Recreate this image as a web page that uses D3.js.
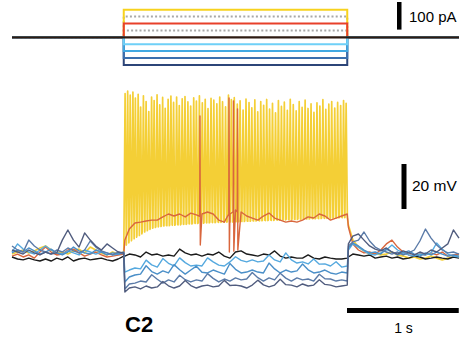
<!DOCTYPE html>
<html>
<head>
<meta charset="utf-8">
<script src="https://cdn.jsdelivr.net/npm/d3@7"></script>
<style>
  body { margin: 0; background: #fff; }
  svg { display: block; }
  text { font-family: "Liberation Sans", Arial, sans-serif; fill: #000; }
</style>
</head>
<body>
<svg id="chart" width="462" height="338"></svg>
<script>
// current step protocol (pA), step on/off in seconds
const stepWindow = [1, 3];
const currentLevels = [75, 25, 100, 50, -100, -75, -50, -25, 0];
const currentColors = ['#a8a8a8', '#a8a8a8', '#f7d21e', '#e8402a', '#2c4578', '#3b6fae', '#42a9e2', '#6fd0f7', '#2e1b12'];
const currentDotted = [true, true, false, false, false, false, false, false, false];

// voltage traces (mV), sampled every 50 ms: pre-step 0..1 s, step 1.01..3 s, post 3.01..4 s
const blackPre = [-73.1, -74, -74.4, -73.6, -74.4, -74.9, -74, -74.9, -73.6, -74.4, -73.1, -74.9, -74, -73.6, -74.4, -74, -73.6, -74.4, -74.9, -74, -72.7];
const blackStep = [-72.7, -71.8, -72.2, -73.1, -70.9, -72.2, -71.8, -72.7, -72.2, -72.7,
  -69.6, -71.3, -72.2, -71.8, -72.7, -71.8, -72.2, -70.9, -72.7, -73.6,
  -70.9, -70.4, -71.8, -72.2, -72.7, -71.8, -72.2, -70.4, -72.7, -73.6,
  -73.1, -73.6, -73.6, -72.2, -73.6, -74, -73.1, -73.6, -74, -74, -73.6];
const blackPost = [-73.1, -71.8, -72.2, -72.7, -72.2, -73.6, -73.1, -72.7, -73.6, -73.1, -74, -73.6, -72.7, -73.1, -74, -73.6, -73.1, -73.6, -74, -73.1, -73.6];

const lightBluePre = [-70.9, -67.3, -69.6, -70.9, -71.8, -70, -68.2, -70, -71.3, -71.8, -70.4, -71.3, -72.2, -70, -70.9, -71.8, -70.9, -71.3, -72.2, -71.8, -71.3];
const lightBlueStep = [-79.8, -78.9, -78, -78.4, -74.5, -76.6, -77.6, -73.8, -75.9, -77.1,
  -73.5, -75.6, -77.1, -76.7, -77.1, -73.5, -75.3, -76.7, -77.1, -75.3,
  -73, -74.6, -75.3, -74.4, -75.3, -74.9, -72.2, -74.4, -75.3, -71.3,
  -74.4, -75.8, -75.3, -76.2, -74, -76.3, -76.2, -77.1, -75.2, -77.6, -77.1];
const lightBluePost = [-70, -67.3, -68.7, -70.4, -71.8, -72.2, -71.3, -70, -67.8, -70, -71.3, -72.2, -72.7, -71.8, -72.2, -71.3, -66.9, -69.6, -71.8, -72.7, -73.1];

const bluePre = [-71.3, -70, -70.9, -69.1, -70.4, -71.8, -70.9, -69.6, -71.3, -72.2, -70.9, -68.7, -70.4, -71.3, -71.8, -70, -70.9, -72.2, -71.3, -71.8, -70.9];
const blueStep = [-84.2, -82, -81.1, -80.7, -77, -79.6, -80.7, -79.3, -80.2, -76.5,
  -78.8, -80.7, -78.9, -77.2, -79.9, -80.2, -78.9, -79.8, -80.7, -76,
  -78.6, -80.2, -79.8, -78.9, -79.8, -80.2, -75.8, -78.4, -80.2, -78.9,
  -79.8, -79.3, -76.2, -78.8, -80.2, -79.8, -78.9, -80.2, -80.7, -79.8, -80.2];
const bluePost = [-69.1, -66.9, -68.2, -70, -71.3, -70.9, -71.8, -69.6, -70.9, -72.2, -71.3, -70.4, -71.8, -72.7, -71.3, -72.2, -70.9, -71.8, -72.7, -72.2, -72.7];

const steelPre = [-68.2, -70, -70.9, -65.6, -68.2, -70, -70.9, -71.8, -70, -70.9, -69.1, -70.4, -71.3, -70, -66, -68.7, -70.4, -71.3, -72.2, -70.9, -71.8];
const steelStep = [-87.3, -85.1, -84.7, -83.8, -84.2, -81, -83, -84.7, -83.3, -84.2,
  -81.2, -83.2, -84.2, -83.3, -83.8, -80.5, -82.6, -84.2, -82.9, -83.8,
  -82.4, -83.3, -82.9, -80, -82.3, -83.8, -82.4, -83.3, -80.3, -82.5,
  -83.8, -82.4, -83.3, -82.9, -83.8, -80.8, -82.8, -82.9, -83.8, -83.3, -83.8];
const steelPost = [-68.2, -66.4, -65.6, -62, -66, -68.7, -70, -70.9, -71.8, -70.9, -72.2, -71.3, -70, -66, -60.7, -64.7, -67.8, -70, -71.3, -70.9, -71.8];

const navyPre = [-70, -70.9, -71.8, -70, -71.3, -72.2, -70.9, -71.8, -71.3, -65.6, -61.1, -65.6, -68.7, -62.4, -65.6, -68.2, -70, -67.3, -69.1, -70.9, -71.3];
const navyStep = [-88.7, -86.9, -86.4, -87.3, -86, -86.9, -86.4, -84, -85.9, -86.9,
  -86, -83.6, -85.8, -86.9, -86, -85.6, -86.4, -86, -83.5, -85.8,
  -85.6, -86, -86.9, -85.6, -83.4, -85.5, -86.4, -85.6, -83, -85.4,
  -85.6, -86.4, -85.1, -86, -85.6, -83.2, -85.3, -85.6, -86.4, -86, -85.6];
const navyPost = [-67.3, -63.8, -62.9, -65.6, -68.2, -69.6, -70.4, -69.1, -70.9, -71.8, -70.4, -71.3, -72.2, -70.9, -71.8, -70, -70.9, -69.1, -67.3, -61.1, -64.7];

const redPre = [-72.7, -71.8, -73.1, -72.2, -73.6, -70.9, -68.7, -70.9, -72.2, -71.8, -70, -69.6, -71.3, -72.7, -71.8, -70.9, -72.2, -73.1, -72.7, -72.2, -71.8];
const redStep = [-65.6, -60.7, -58, -57.6, -57.1, -56.7, -56.7, -55.3, -54, -54.9,
  -54, -55.3, -53.6, -54.4, -54, -53.1, -54, -56.7, -57.6, -54,
  -52.2, -53.1, -54.9, -55.8, -56.7, -54.9, -53.6, -55.8, -56.7, -57.6,
  -57.1, -57.6, -56.7, -55.3, -55.8, -54, -54.9, -56.7, -55.8, -54.9, -54];
const redPost = [-59.8, -67.3, -70, -71.3, -70.9, -71.8, -70, -67.3, -65.6, -68.7, -70.9, -72.2, -72.7, -71.8, -72.2, -71.3, -72.2, -70.9, -72.7, -72.2, -71.8];
// [time s, onset mV, peak mV, trough mV]
const redSpikes = [[1.682, -55, -10.4, -67.8], [1.942, -54, -2.4, -70.9], [1.982, -53, -3.8, -70.5], [2.018, -53, -7.3, -70]];

const yellowPre = [-71.8, -70.9, -70, -71.3, -70.4, -69.1, -68.2, -70, -71.3, -70.9, -71.8, -70.4, -69.6, -71.3, -68.7, -70, -71.3, -72.2, -70.9, -71.8, -70.9];
const yellowPost = [-58.9, -65.6, -68.7, -70.4, -71.8, -71.3, -72.2, -71.8, -70.9, -72.2, -72.7, -73.6, -73.1, -74, -73.6, -72.7, -73.6, -74.4, -73.6, -73.1, -72.7];
// [time s, peak mV, trough mV]
const yellowSpikes = [
  [1.012, -0.5, -67.8], [1.035, 0.6, -66.8], [1.058, -1.2, -65.9], [1.082, 0.2, -65.0], [1.104, -2.5, -64.3],
  [1.129, -0.8, -63.5], [1.151, -6.5, -62.8], [1.176, -1.5, -62.0], [1.200, -4.0, -61.4], [1.224, -8.5, -60.8],
  [1.249, -2.0, -60.3], [1.272, -3.6, -60.0], [1.298, -1.0, -59.7], [1.322, -5.5, -59.5], [1.348, -2.2, -59.3],
  [1.371, -7.0, -59.1], [1.397, -3.0, -59.2], [1.422, -1.6, -58.9], [1.446, -4.4, -59.0], [1.473, -2.0, -58.7],
  [1.497, -5.8, -58.8], [1.523, -2.8, -58.5], [1.548, -1.8, -58.6], [1.574, -4.2, -58.3], [1.599, -6.0, -58.4],
  [1.626, -2.4, -58.1], [1.650, -3.8, -58.2], [1.677, -1.5, -58.0], [1.703, -4.6, -58.1], [1.729, -3.0, -57.8],
  [1.754, -7.2, -57.9], [1.781, -2.6, -57.7], [1.806, -3.4, -57.8], [1.833, -5.0, -57.6], [1.859, -2.0, -57.7],
  [1.884, -4.1, -57.5], [1.911, -6.4, -57.6], [1.937, -1.2, -57.4], [1.963, -3.2, -57.5], [1.989, -2.3, -57.3],
  [2.016, -5.2, -57.4], [2.041, -3.7, -57.2], [2.068, -7.8, -57.3], [2.094, -2.9, -57.1], [2.121, -4.5, -57.2],
  [2.146, -6.8, -57.0], [2.173, -3.3, -57.1], [2.199, -8.6, -56.9], [2.226, -4.0, -57.0], [2.252, -5.7, -56.8],
  [2.279, -3.1, -56.9], [2.305, -7.4, -56.7], [2.331, -4.8, -56.8], [2.358, -9.0, -56.6], [2.384, -3.6, -56.7],
  [2.411, -6.2, -56.5], [2.437, -4.3, -56.6], [2.464, -7.9, -56.4], [2.490, -3.0, -56.5], [2.517, -5.4, -56.3],
  [2.543, -8.2, -56.4], [2.570, -4.0, -56.2], [2.596, -6.6, -56.3], [2.623, -3.4, -56.1], [2.649, -7.1, -56.2],
  [2.676, -5.0, -56.0], [2.702, -8.8, -56.1], [2.729, -4.6, -55.9], [2.755, -6.0, -56.0], [2.782, -3.2, -55.8],
  [2.808, -7.5, -55.9], [2.835, -5.2, -55.7], [2.861, -4.0, -55.8], [2.888, -6.9, -55.6], [2.914, -4.4, -55.7],
  [2.941, -5.8, -55.5], [2.967, -3.6, -55.6], [2.990, -4.8, -55.5]
];

const svg = d3.select('#chart');

let x = d3.scaleLinear().domain([0, 4]).range([12, 459]),
    yI = d3.scaleLinear().domain([0, 100]).range([37.3, 9.7]),
    yV = d3.scaleLinear().domain([-70, -50]).range([250, 205]);

const preTimes = d3.range(0, 1.001, 0.05);
const stepTimes = [1.01].concat(d3.range(1.05, 3.001, 0.05));
const postTimes = [3.01].concat(d3.range(3.05, 4.001, 0.05));

function sampled (pre, step, post) {
  let out = [];
  preTimes.forEach((t, i) => out.push([t, pre[i]]));
  if ( step ) {
    stepTimes.forEach((t, i) => out.push([t, step[i]]));
  }
  postTimes.forEach((t, i) => out.push([t, post[i]]));
  return out;
}

// current steps
let iLine = d3.line().x(d => x(d[0])).y(d => yI(d[1]));
let gI = svg.append('g').attr('class', 'current');
currentLevels.forEach((level, i) => {
  let pts = [[0, 0], [stepWindow[0], 0], [stepWindow[0], level], [stepWindow[1], level], [stepWindow[1], 0], [4, 0]];
  gI.append('path')
    .attr('d', iLine(pts))
    .attr('fill', 'none')
    .attr('stroke', currentColors[i])
    .attr('stroke-width', level === 0 ? 2.2 : 2)
    .attr('stroke-dasharray', currentDotted[i] ? '2 2.2' : null);
});

// voltage traces
let yellowPts = preTimes.map((t, i) => [t, yellowPre[i]]);
yellowSpikes.forEach(s => {
  yellowPts.push([s[0] - 0.011, s[2]], [s[0], s[1]], [s[0] + 0.011, s[2]]);
});
postTimes.forEach((t, i) => yellowPts.push([t, yellowPost[i]]));

let redPts = sampled(redPre, redStep, redPost);
redSpikes.forEach(s => {
  redPts.push([s[0] - 0.002, s[1]], [s[0], s[2]], [s[0] + 0.003, s[3]]);
});
redPts.sort((a, b) => a[0] - b[0]);

const traces = [
  { pts: yellowPts, color: '#f4cf36', w: 1.7 },
  { pts: redPts, color: '#d9663d', w: 1.4 },
  { pts: sampled(blackPre, blackStep, blackPost), color: '#1b1b1b', w: 1.4 },
  { pts: sampled(lightBluePre, lightBlueStep, lightBluePost), color: '#55a9df', w: 1.4 },
  { pts: sampled(bluePre, blueStep, bluePost), color: '#4a8fc8', w: 1.4 },
  { pts: sampled(steelPre, steelStep, steelPost), color: '#5b7ba8', w: 1.4 },
  { pts: sampled(navyPre, navyStep, navyPost), color: '#505c7e', w: 1.4 }
];

let vLine = d3.line().x(d => x(d[0])).y(d => yV(d[1]));
let gV = svg.append('g').attr('class', 'voltage');
gV.selectAll('path')
  .data(traces)
  .enter().append('path')
    .attr('d', d => vLine(d.pts))
    .attr('fill', 'none')
    .attr('stroke', d => d.color)
    .attr('stroke-width', d => d.w)
    .attr('stroke-linejoin', 'round');

// scale bars
svg.append('rect')
  .attr('x', 397).attr('y', 2)
  .attr('width', 4.5).attr('height', yI(0) - yI(100));
svg.append('text').attr('x', 409).attr('y', 22)
  .style('font-size', '15px').text('100 pA');

svg.append('rect')
  .attr('x', 401.5).attr('y', 164)
  .attr('width', 5).attr('height', yV(-70) - yV(-50));
svg.append('text').attr('x', 412).attr('y', 191)
  .style('font-size', '15.5px').text('20 mV');

svg.append('rect')
  .attr('x', 347).attr('y', 308)
  .attr('width', x(1) - x(0)).attr('height', 5);
svg.append('text').attr('x', 403.5).attr('y', 333)
  .style('font-size', '14px').style('text-anchor', 'middle').text('1 s');

svg.append('text').attr('x', 125).attr('y', 332)
  .style('font-size', '22px').style('font-weight', 'bold').text('C2');
</script>
</body>
</html>
